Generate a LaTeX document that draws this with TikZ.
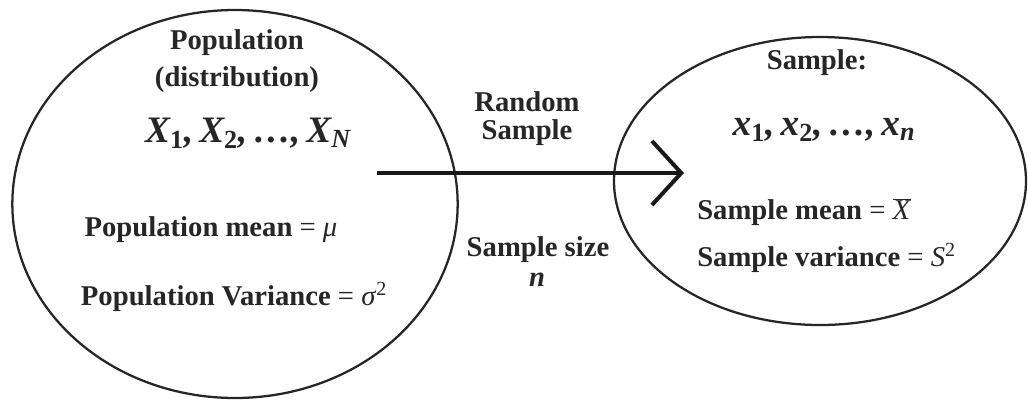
\documentclass[tikz,border=0pt]{standalone}
\usepackage{fontspec}
\setmainfont{Liberation Serif}
\usetikzlibrary{shapes.geometric,arrows.meta}
\tikzset{
  oval/.style={ellipse, draw=black!85, line width=1.7pt, inner sep=0pt},
  lbl/.style={font=\fontsize{21.5}{25}\selectfont\bfseries, text=black!85, align=center, inner sep=0pt},
  seq/.style={font=\fontsize{28}{32}\selectfont\bfseries\itshape, text=black!85, inner sep=0pt},
  link/.style={line width=3pt, draw=black!90, -{Straight Barb[length=22pt,width=48pt,line width=3pt]}}
}
\newcommand\eqp{\mdseries\ = }
\newcommand\sbs[1]{\textsubscript{\upshape #1}}
\begin{document}
\begin{tikzpicture}[x=0.75pt,y=-0.75pt]
\useasboundingbox (0,0) rectangle (1028,401);
% ellipses
\node[oval, minimum width=334pt, minimum height=291pt] (pop) at (235,204) {};
\node[oval, minimum width=309pt, minimum height=216pt] (smp) at (820,181) {};
% left texts
\node[lbl] (t1) at (237,43) {Population};
\node[lbl] (t2) at (237,80) {(distribution)};
\node[seq] (t3) at (248,133) {X\sbs{1},\,X\sbs{2},\,\ldots,\,X\textsubscript{N}};
\node[lbl] (t4) at (211,230) {Population mean\eqp\textit{μ}};
\node[lbl] (t5) at (234,297) {Population Variance\eqp\textit{σ}\textsuperscript{2}};
% middle texts
\node[lbl] (m1) at (527,102) {Random};
\node[lbl] (m2) at (527,133) {Sample};
\node[lbl] (m3) at (538,250) {Sample size};
\node[lbl] (m4) at (537,280) {\textit{n}};
% right texts
\node[lbl] (r1) at (817,63) {Sample:};
\node[seq] (r2) at (824,130) {x\sbs{1},\,x\sbs{2},\,\ldots,\,x\textsubscript{n}};
\node[lbl, anchor=west] (r3) at (697,212) {Sample mean\eqp$\overline{\mbox{\mdseries\textit{X}}}$};
\node[lbl, anchor=west] (r4) at (697,258) {Sample variance\eqp\textit{S}\textsuperscript{2}};
% arrow
\coordinate (a0) at (377,173);
\coordinate (a1) at (684,173);
\draw[link] (a0) -- (a1);
\end{tikzpicture}
\end{document}
